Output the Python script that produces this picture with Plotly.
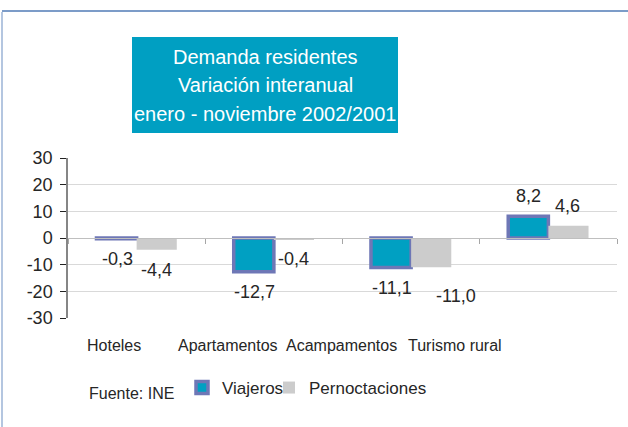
import plotly.graph_objects as go

categories = ["Hoteles", "Apartamentos", "Acampamentos", "Turismo rural"]
viajeros = [-0.3, -12.7, -11.1, 8.2]
pernoctaciones = [-4.4, -0.4, -11.0, 4.6]
y_ticks = [-30, -20, -10, 0, 10, 20, 30]

def fmt(v):
    return f"{v:.1f}".replace(".", ",")

W, H = 628, 427
L, R, T, B = 68, 11, 158, 109
PW, PH = W - L - R, H - T - B

def px_x(x):
    return (x - L) / PW

def px_y(y):
    return (H - B - y) / PH

FONT = "Liberation Sans, Arial, sans-serif"
TEAL = "#00A0C2"
BORDER = "#6E77B6"
GRAY = "#CCCCCC"
TXT = "#262626"

fig = go.Figure()
fig.add_trace(go.Bar(name="Viajeros", x=categories, y=viajeros, legend="legend",
                     marker=dict(color=TEAL, line=dict(color=BORDER, width=3.5))))
fig.add_trace(go.Bar(name="Pernoctaciones", x=categories, y=pernoctaciones, legend="legend2",
                     marker=dict(color=GRAY, line=dict(width=0))))

annotations = []
v_shift = [(0, 0), (0, 0), (0, 0), (0, 0)]
p_shift = [(0, 0), (0, 0), (25, -9), (0, 0)]
for i, c in enumerate(categories):
    for vals, dx, extra in ((viajeros, -19.5, v_shift), (pernoctaciones, 19.5, p_shift)):
        v = vals[i]
        annotations.append(dict(x=c, y=v, xref="x", yref="y", text=fmt(v), showarrow=False,
                                xshift=dx + extra[i][0],
                                yshift=(20 if v > 0 else -20) + extra[i][1],
                                font=dict(family=FONT, size=18, color=TXT)))
cat_shift = [-23, -46, -70, -93]
for c, s in zip(categories, cat_shift):
    annotations.append(dict(x=c, y=px_y(345), xref="x", yref="paper", text=c, showarrow=False,
                            xshift=s, yanchor="middle",
                            font=dict(family=FONT, size=16, color=TXT)))
title_lines = ["Demanda residentes", "Variación interanual", "enero - noviembre 2002/2001"]
for line, yc in zip(title_lines, [57, 85, 114]):
    annotations.append(dict(x=px_x(265), y=px_y(yc), xref="paper", yref="paper", text=line,
                            showarrow=False, yanchor="middle",
                            font=dict(family=FONT, size=20, color="white")))
annotations.append(dict(x=px_x(87), y=px_y(393), xref="paper", yref="paper", text="Fuente: INE",
                        showarrow=False, yanchor="middle",
                        font=dict(family=FONT, size=16, color=TXT)))

shapes = [
    dict(type="rect", xref="paper", yref="paper", x0=px_x(132), x1=px_x(398),
         y0=px_y(133), y1=px_y(37), fillcolor="#009FC2", line=dict(width=0), layer="below"),
    dict(type="rect", xref="paper", yref="paper", x0=px_x(1), x1=px_x(3),
         y0=px_y(427), y1=px_y(12), fillcolor="#B4C6E0", line=dict(width=0), layer="above"),
]

legend_common = dict(orientation="h", xanchor="left", yanchor="middle",
                     font=dict(family=FONT, size=17, color=TXT), itemwidth=30,
                     bgcolor="rgba(0,0,0,0)")

fig.update_layout(
    width=W, height=H,
    margin=dict(l=L, r=R, t=T, b=B),
    paper_bgcolor="white", plot_bgcolor="white",
    barmode="group", bargap=0.415, bargroupgap=0,
    font=dict(family=FONT, size=16, color=TXT),
    showlegend=True,
    legend=dict(x=px_x(182), y=px_y(388), **legend_common),
    legend2=dict(x=px_x(269), y=px_y(388), **legend_common),
    xaxis=dict(type="category", anchor="free", position=0.5, showline=True,
               linecolor="#BFBFBF", linewidth=1, ticks="outside", tickson="boundaries",
               ticklen=5, tickcolor="#A6A6A6", showticklabels=False, showgrid=False,
               zeroline=False),
    yaxis=dict(range=[-30, 30], tickvals=y_ticks, ticktext=[str(t) for t in y_ticks],
               showline=True, linecolor="#868686", linewidth=1.5,
               ticks="outside", ticklen=6, tickcolor="#222222",
               showgrid=True, gridcolor="#D9D9D9", gridwidth=1, zeroline=False,
               tickfont=dict(family=FONT, size=18, color=TXT), ticklabelstandoff=4),
    annotations=annotations,
    shapes=shapes,
)

post = (
    "document.body.style.margin='0';document.documentElement.style.margin='0';"
    "var b=document.createElement('div');"
    "b.style.cssText='position:absolute;left:2px;top:10px;width:640px;height:2px;"
    "background:#7C9CC8;z-index:10;pointer-events:none;';"
    "document.body.appendChild(b);"
)
fig.write_html("out.html", config={"displayModeBar": False}, post_script=post)
